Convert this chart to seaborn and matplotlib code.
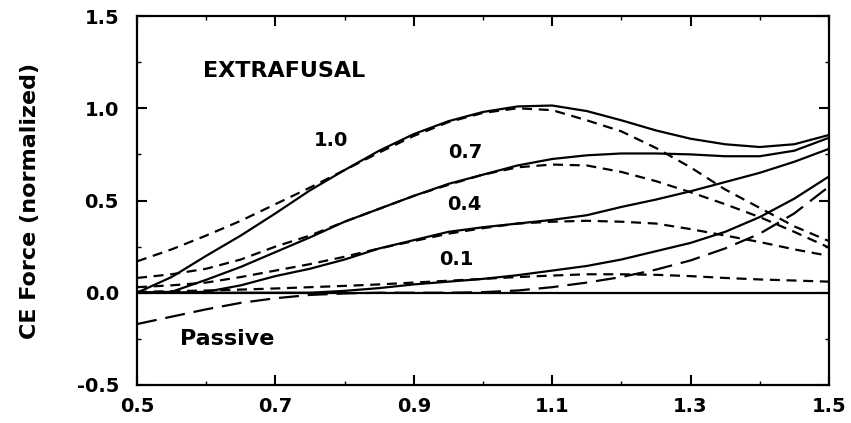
import matplotlib
matplotlib.use("Agg")
import matplotlib.pyplot as plt
from matplotlib.ticker import MultipleLocator
import seaborn as sns
import pandas as pd

# ---- data ----
length = [0.50, 0.55, 0.60, 0.65, 0.70, 0.75, 0.80, 0.85, 0.90, 0.95, 1.00,
          1.05, 1.10, 1.15, 1.20, 1.25, 1.30, 1.35, 1.40, 1.45, 1.50]

# total CE force (solid)
total_10 = [0.0, 0.085, 0.20, 0.31, 0.43, 0.555, 0.665, 0.77, 0.86, 0.93, 0.98,
            1.01, 1.015, 0.985, 0.935, 0.88, 0.835, 0.805, 0.79, 0.805, 0.855]
total_07 = [0.0, 0.005, 0.07, 0.14, 0.22, 0.30, 0.385, 0.455, 0.525, 0.59, 0.64,
            0.69, 0.725, 0.745, 0.755, 0.755, 0.75, 0.74, 0.74, 0.77, 0.84]
total_04 = [0.0, 0.0, 0.005, 0.04, 0.09, 0.13, 0.18, 0.24, 0.285, 0.33, 0.355,
            0.375, 0.395, 0.42, 0.465, 0.505, 0.55, 0.60, 0.65, 0.71, 0.78]
total_01 = [0.0, 0.0, 0.0, 0.0, 0.0, 0.0, 0.01, 0.025, 0.045, 0.06, 0.075,
            0.095, 0.12, 0.145, 0.18, 0.225, 0.27, 0.33, 0.41, 0.51, 0.63]

# active force-length component (short dashes)
active_10 = [0.17, 0.235, 0.31, 0.39, 0.48, 0.57, 0.665, 0.76, 0.85, 0.925, 0.975,
             1.0, 0.99, 0.935, 0.875, 0.785, 0.68, 0.56, 0.46, 0.36, 0.28]
active_07 = [0.08, 0.10, 0.13, 0.18, 0.25, 0.31, 0.385, 0.455, 0.525, 0.585, 0.64,
             0.68, 0.695, 0.69, 0.655, 0.605, 0.545, 0.48, 0.41, 0.33, 0.245]
active_04 = [0.03, 0.04, 0.055, 0.085, 0.12, 0.155, 0.195, 0.24, 0.28, 0.32, 0.35,
             0.375, 0.385, 0.39, 0.385, 0.375, 0.345, 0.31, 0.275, 0.235, 0.20]
active_01 = [0.005, 0.008, 0.012, 0.017, 0.023, 0.03, 0.037, 0.045, 0.055, 0.065, 0.075,
             0.085, 0.093, 0.10, 0.10, 0.097, 0.09, 0.08, 0.072, 0.066, 0.06]

# passive component (long dashes)
passive = [-0.17, -0.13, -0.09, -0.055, -0.03, -0.012, -0.004, 0.0, 0.0, 0.0, 0.003,
           0.012, 0.03, 0.055, 0.085, 0.125, 0.175, 0.24, 0.32, 0.43, 0.575]

activation_labels = ["1.0", "0.7", "0.4", "0.1"]
x_ticks = [0.5, 0.7, 0.9, 1.1, 1.3, 1.5]
y_ticks = [-0.5, 0.0, 0.5, 1.0, 1.5]

# ---- style ----
sns.set_theme(style="ticks")
plt.rcParams["font.family"] = ["DejaVu Sans"]
plt.rcParams["font.weight"] = "bold"
plt.rcParams["text.color"] = "black"
plt.rcParams["axes.labelcolor"] = "black"
plt.rcParams["xtick.color"] = "black"
plt.rcParams["ytick.color"] = "black"

fig = plt.figure(figsize=(8.51, 4.23), dpi=100)
ax = fig.add_axes([0.161, 0.090, 0.813, 0.872])

short_dash = (0, (4.5, 3.0))
long_dash = (0, (9.0, 4.0))
lw = 1.6

for tot in [total_10, total_07, total_04, total_01]:
    sns.lineplot(x=length, y=tot, ax=ax, color="black", linewidth=lw,
                 linestyle="-", sort=True, estimator=None)
for act in [active_10, active_07, active_04, active_01]:
    sns.lineplot(x=length, y=act, ax=ax, color="black", linewidth=lw,
                 linestyle=short_dash, sort=True, estimator=None)
sns.lineplot(x=length, y=passive, ax=ax, color="black", linewidth=lw,
             linestyle=long_dash, sort=True, estimator=None)

ax.axhline(0.0, color="black", linewidth=1.6, zorder=1)

ax.set_xlim(0.5, 1.5)
ax.set_ylim(-0.5, 1.5)
ax.set_xticks(x_ticks)
ax.set_yticks(y_ticks)
ax.set_xticklabels([f"{v:.1f}" for v in x_ticks], fontsize=14, fontweight="bold",
                   color="black")
ax.set_yticklabels([f"{v:.1f}" for v in y_ticks], fontsize=14, fontweight="bold",
                   color="black")
ax.xaxis.set_minor_locator(MultipleLocator(0.1))
ax.yaxis.set_minor_locator(MultipleLocator(0.25))
ax.tick_params(which="major", direction="in", length=7, width=1.5,
               top=True, right=True, colors="black")
ax.tick_params(axis="x", which="major", pad=9)
ax.tick_params(axis="y", which="major", pad=13)
ax.tick_params(which="minor", direction="in", length=3, width=1.0,
               top=True, right=True, colors="black")
for s in ax.spines.values():
    s.set_linewidth(1.6)
    s.set_color("black")

ax.set_xlabel("")
ax.set_ylabel("CE Force (normalized)", fontsize=16, fontweight="bold",
              labelpad=26, color="black")

# annotations
ax.text(0.595, 1.20, "EXTRAFUSAL", fontsize=16, fontweight="bold",
        ha="left", va="center", color="black")
label_pos = [(0.78, 0.827), (0.974, 0.762), (0.973, 0.48), (0.961, 0.178)]
for lab, (lx, ly) in zip(activation_labels, label_pos):
    ax.text(lx, ly, lab, fontsize=14, fontweight="bold", ha="center",
            va="center", color="black")
ax.text(0.630, -0.25, "Passive", fontsize=16, fontweight="bold",
        ha="center", va="center", color="black")

fig.savefig("out.png", dpi=100, facecolor="white")
